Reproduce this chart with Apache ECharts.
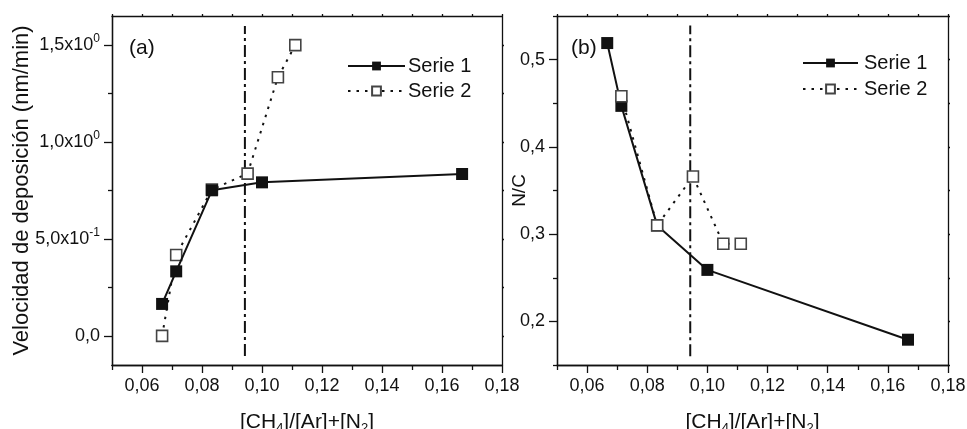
<!DOCTYPE html>
<html><head><meta charset="utf-8">
<script src="https://cdn.jsdelivr.net/npm/echarts@6/dist/echarts.min.js"></script>
<style>html,body{margin:0;padding:0;background:#fff}#c{width:967px;height:429px}</style>
</head><body><div id="c"></div>
<script>
// Panel (a): deposition rate
const xA1 = [0.0667, 0.0714, 0.0833, 0.1000, 0.1667];
const yA1 = [0.165, 0.333, 0.751, 0.792, 0.835];
const xA2 = [0.0667, 0.0714, 0.0833, 0.0952, 0.1053, 0.1111];
const yA2 = [0.000, 0.417, 0.755, 0.837, 1.334, 1.500];
// Panel (b): N/C
const xB1 = [0.0667, 0.0714, 0.0833, 0.1000, 0.1667];
const yB1 = [0.519, 0.447, 0.310, 0.259, 0.179];
const xB2 = [0.0714, 0.0833, 0.0952, 0.1053, 0.1111];
const yB2 = [0.458, 0.310, 0.366, 0.289, 0.289];
// vertical dash-dot reference line
const vlineX = 0.0943;
const vlineYa = [-0.103, 1.598];
const vlineYb = [0.160, 0.539];
// axis ranges and ticks
const xRange = [0.05, 0.18];
const xMajor = [0.06, 0.08, 0.10, 0.12, 0.14, 0.16, 0.18];
const xMinor = [0.05, 0.07, 0.09, 0.11, 0.13, 0.15, 0.17];
const xAll = [0.05,0.06,0.07,0.08,0.09,0.10,0.11,0.12,0.13,0.14,0.15,0.16,0.17,0.18];
const yaRange = [-0.15, 1.65];
const yaMajor = [0, 0.5, 1.0, 1.5];
const yaMinor = [0.25, 0.75, 1.25];
const yaAll = [0, 0.25, 0.5, 0.75, 1.0, 1.25, 1.5];
const yaLabels = {'0': ['0,0', ''], '0.5': ['5,0x10', '-1'], '1': ['1,0x10', '0'], '1.5': ['1,5x10', '0']};
const ybRange = [0.15, 0.55];
const ybMajor = [0.2, 0.3, 0.4, 0.5];
const ybMinor = [0.15, 0.25, 0.35, 0.45, 0.55];
const ybAll = [0.15,0.2,0.25,0.3,0.35,0.4,0.45,0.5,0.55];
const seriesNames = ['Serie 1', 'Serie 2'];

const FONT = 'Liberation Sans, Arial, sans-serif';
const INK = '#111';
const pairs = (xs, ys) => xs.map((x, i) => [x, ys[i]]);

const xName = '[CH{sub|4}]/[Ar]+[N{sub|2}]';
const nameRich = {
  sub: {fontSize: 13, fontFamily: FONT, color: INK, verticalAlign: 'bottom', lineHeight: 26}
};

function xAxes(g) {
  const base = {type: 'value', gridIndex: g, min: xRange[0], max: xRange[1], splitLine: {show: false},
    axisLine: {show: true, onZero: false, lineStyle: {color: INK, width: 1.3}}};
  return [
    Object.assign({}, base, {position: 'bottom',
      axisTick: {show: true, inside: false, length: 8, customValues: xMajor, lineStyle: {color: INK, width: 1.3}},
      axisLabel: {show: true, customValues: xMajor, margin: 12, fontSize: 18, fontFamily: FONT, color: INK,
        formatter: v => v.toFixed(2).replace('.', ',')},
      name: xName, nameLocation: 'middle', nameGap: 44, nameMoveOverlap: false,
      nameTextStyle: {fontSize: 21, fontFamily: FONT, color: INK, lineHeight: 26, rich: nameRich}}),
    Object.assign({}, base, {position: 'bottom',
      axisTick: {show: true, inside: false, length: 5, customValues: xMinor, lineStyle: {color: INK, width: 1.3}},
      axisLabel: {show: false}}),
    Object.assign({}, base, {position: 'top',
      axisTick: {show: true, inside: false, length: 2, customValues: xAll, lineStyle: {color: INK, width: 1.3}},
      axisLabel: {show: false}})
  ];
}

function yAxes(g, range, major, minor, all, fmt, name, nameGap, nameSize) {
  const base = {type: 'value', gridIndex: g, min: range[0], max: range[1], splitLine: {show: false},
    axisLine: {show: true, onZero: false, lineStyle: {color: INK, width: 1.3}}};
  return [
    Object.assign({}, base, {position: 'left',
      axisTick: {show: true, inside: false, length: 8, customValues: major, lineStyle: {color: INK, width: 1.3}},
      axisLabel: {show: true, customValues: major, margin: 12, fontSize: 18, fontFamily: FONT, color: INK,
        formatter: fmt,
        rich: {
          m: {fontSize: 18, fontFamily: FONT, color: INK, lineHeight: 24},
          sup: {fontSize: 12, fontFamily: FONT, color: INK, verticalAlign: 'top', lineHeight: 12}
        }},
      name: name, nameLocation: 'middle', nameGap: nameGap, nameMoveOverlap: false,
      nameTextStyle: {fontSize: nameSize, fontFamily: FONT, color: INK}}),
    Object.assign({}, base, {position: 'left',
      axisTick: {show: true, inside: false, length: 4, customValues: minor, lineStyle: {color: INK, width: 1.3}},
      axisLabel: {show: false}}),
    Object.assign({}, base, {position: 'right',
      axisTick: {show: true, inside: false, length: 2, customValues: all, lineStyle: {color: INK, width: 1.3}},
      axisLabel: {show: false}})
  ];
}

const fmtA = v => {
  const k = String(Math.round(v * 100) / 100);
  const p = yaLabels[k];
  if (!p) return '';
  return p[1] ? '{m|' + p[0] + '}{sup|' + p[1] + '}' : '{m|' + p[0] + '}';
};
const fmtB = v => '{m|' + v.toFixed(1).replace('.', ',') + '}';

const solid = (name, data, xi, yi, z) => ({
  name, type: 'line', data, xAxisIndex: xi, yAxisIndex: yi, z,
  symbol: 'rect', symbolSize: 12, showSymbol: true,
  lineStyle: {color: INK, width: 2},
  itemStyle: {color: INK, borderColor: INK, borderWidth: 0},
  emphasis: {disabled: true}, animation: false
});
const dotted = (name, data, xi, yi, z) => ({
  name, type: 'line', data, xAxisIndex: xi, yAxisIndex: yi, z,
  symbol: 'rect', symbolSize: 11, showSymbol: true,
  lineStyle: {color: INK, width: 2, type: [2.5, 6]},
  itemStyle: {color: '#fff', borderColor: '#444', borderWidth: 1.6},
  emphasis: {disabled: true}, animation: false
});
const vline = (x, ys, xi, yi) => ({
  name: 'ref', type: 'line', data: [[x, ys[0]], [x, ys[1]]], xAxisIndex: xi, yAxisIndex: yi,
  symbol: 'none', lineStyle: {color: INK, width: 2, type: [12, 4, 3, 4]}, z: 1,
  emphasis: {disabled: true}, animation: false, silent: true
});

const option = {
  backgroundColor: '#fff',
  animation: false,
  grid: [
    {left: 112, top: 16, width: 390, height: 349, outerBoundsMode: 'none', containLabel: false},
    {left: 557, top: 16, width: 391, height: 349, outerBoundsMode: 'none', containLabel: false}
  ],
  xAxis: [...xAxes(0), ...xAxes(1)],
  yAxis: [
    ...yAxes(0, yaRange, yaMajor, yaMinor, yaAll, fmtA, 'Velocidad de deposición (nm/min)', 79, 22),
    ...yAxes(1, ybRange, ybMajor, ybMinor, ybAll, fmtB, 'N/C', 28, 19)
  ],
  legend: [
    {data: seriesNames, orient: 'vertical', left: 347, top: 56, padding: 0, itemWidth: 57, itemHeight: 11, itemGap: 5,
      selectedMode: false, textStyle: {fontSize: 20, fontFamily: FONT, color: INK, padding: [0, 0, 0, -2]}},
    {data: seriesNames, orient: 'vertical', left: 802, top: 53, padding: 0, itemWidth: 55, itemHeight: 11, itemGap: 6,
      selectedMode: false, textStyle: {fontSize: 20, fontFamily: FONT, color: INK, padding: [0, 0, 0, 1]}}
  ],
  graphic: [
    {type: 'text', left: 129, top: 38, style: {text: '(a)', fontSize: 21, fontFamily: FONT, fill: INK}},
    {type: 'text', left: 571, top: 38, style: {text: '(b)', fontSize: 21, fontFamily: FONT, fill: INK}}
  ],
  series: [
    vline(vlineX, vlineYa, 0, 0),
    dotted('Serie 2', pairs(xA2, yA2), 0, 0, 2),
    solid('Serie 1', pairs(xA1, yA1), 0, 0, 3),
    vline(vlineX, vlineYb, 3, 3),
    solid('Serie 1', pairs(xB1, yB1), 3, 3, 2),
    dotted('Serie 2', pairs(xB2, yB2), 3, 3, 3)
  ]
};
echarts.init(document.getElementById('c'), null, {renderer: 'canvas'}).setOption(option);
</script></body></html>
